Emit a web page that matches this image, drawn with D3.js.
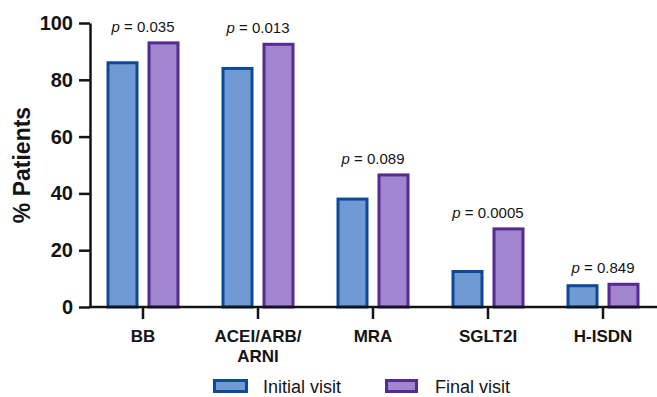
<!DOCTYPE html>
<html>
<head>
<meta charset="utf-8">
<script src="https://cdn.jsdelivr.net/npm/d3@7/dist/d3.min.js"></script>
<style>
  html, body { margin: 0; padding: 0; background: #fff; }
  svg { display: block; font-family: "Liberation Sans", Arial, Helvetica, sans-serif; }
</style>
</head>
<body>
<svg id="chart" width="657" height="397"></svg>
<script>
// Medication classes and the share of patients on each at both visits
const categories = ["BB", "ACEI/ARB/ARNI", "MRA", "SGLT2I", "H-ISDN"];
const categoryLines = [["BB"], ["ACEI/ARB/", "ARNI"], ["MRA"], ["SGLT2I"], ["H-ISDN"]];
const seriesNames = ["Initial visit", "Final visit"];
const initialVisit = [86, 84, 38, 12.5, 7.5];
const finalVisit = [93, 92.5, 46.5, 27.5, 8];
const pValues = ["0.035", "0.013", "0.089", "0.0005", "0.849"];
const yTicks = [0, 20, 40, 60, 80, 100];

const fills = ["#6f9ad3", "#a285cf"];
const strokes = ["#0c4a98", "#552a91"];
const ink = "#141414";

const svg = d3.select("#chart");

const x0 = d3.scaleBand().domain(categories).range([85.5, 660.5]).padding(0);
const x1 = d3.scaleBand().domain(seriesNames).range([22.5, 92.5]).paddingInner(12 / 41).paddingOuter(0);
const y = d3.scaleLinear().domain([0, 100]).range([307, 23]);

const rows = categories.map((c, i) => ({
  cat: c, lines: categoryLines[i], p: pValues[i],
  vals: [initialVisit[i], finalVisit[i]]
}));

// Bars
const groups = svg.append("g").selectAll("g").data(rows).join("g")
  .attr("transform", d => `translate(${x0(d.cat)},0)`);
groups.selectAll("rect").data(d => d.vals.map((v, k) => ({ v, k })))
  .join("rect")
  .attr("x", d => x1(seriesNames[d.k]))
  .attr("width", x1.bandwidth())
  .attr("y", d => y(d.v))
  .attr("height", d => y(0) - y(d.v))
  .attr("fill", d => fills[d.k])
  .attr("stroke", d => strokes[d.k])
  .attr("stroke-width", 3);

// p-value annotations above each pair
const pLabels = svg.append("g").selectAll("text").data(rows).join("text")
  .attr("x", d => x0(d.cat) + x0.bandwidth() / 2)
  .attr("y", d => y(d3.max(d.vals)) - 11)
  .attr("text-anchor", "middle")
  .attr("font-size", 15)
  .attr("fill", ink);
pLabels.append("tspan").attr("font-style", "italic").text("p");
pLabels.append("tspan").text(d => " = " + d.p);

// Y axis
const yAxis = svg.append("g")
  .attr("transform", "translate(90,0)")
  .call(d3.axisLeft(y).tickValues(yTicks).tickSize(11).tickPadding(6).tickSizeOuter(0));
yAxis.select(".domain").attr("stroke", ink).attr("stroke-width", 2.5);
yAxis.selectAll(".tick line").attr("stroke", ink).attr("stroke-width", 2.5);
yAxis.selectAll(".tick text")
  .attr("font-size", 20).attr("font-weight", "bold").attr("fill", ink)
  .attr("font-family", "'Liberation Sans', Arial, sans-serif");

// X axis
const xAxis = svg.append("g")
  .attr("transform", `translate(0,${y(0)})`)
  .call(d3.axisBottom(x0).tickSize(12).tickSizeOuter(0).tickFormat(""));
xAxis.select(".domain").attr("d", "M90,0H657").attr("stroke", ink).attr("stroke-width", 2.5);
xAxis.selectAll(".tick line").attr("stroke", ink).attr("stroke-width", 2.5);

// Category labels (may wrap over two lines)
const catText = svg.append("g").selectAll("text").data(rows).join("text")
  .attr("x", d => x0(d.cat) + x0.bandwidth() / 2)
  .attr("y", 342)
  .attr("text-anchor", "middle")
  .attr("font-size", 17)
  .attr("font-weight", "bold")
  .attr("fill", ink);
catText.selectAll("tspan").data(d => d.lines).join("tspan")
  .attr("x", function () { return d3.select(this.parentNode).attr("x"); })
  .attr("dy", (d, i) => i === 0 ? 0 : 20)
  .text(d => d);

// Y axis title
svg.append("text")
  .attr("transform", "translate(30,165) rotate(-90)")
  .attr("text-anchor", "middle")
  .attr("font-size", 23)
  .attr("font-weight", "bold")
  .attr("fill", ink)
  .text("% Patients");

// Legend
const legendX = [214.5, 386.5];
const legend = svg.append("g").selectAll("g").data(seriesNames).join("g")
  .attr("transform", (d, i) => `translate(${legendX[i]},380.5)`);
legend.append("rect")
  .attr("width", (d, i) => i === 0 ? 32 : 30)
  .attr("height", 11)
  .attr("fill", (d, i) => fills[i])
  .attr("stroke", (d, i) => strokes[i])
  .attr("stroke-width", 3);
legend.append("text")
  .attr("x", 48.5)
  .attr("y", 12.5)
  .attr("font-size", 18)
  .attr("fill", ink)
  .text(d => d);
</script>
</body>
</html>
